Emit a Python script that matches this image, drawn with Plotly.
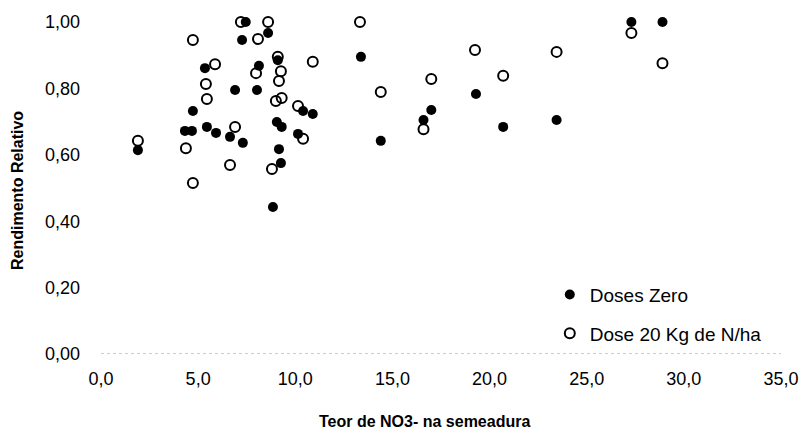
import plotly.graph_objects as go

# Doses Zero (filled)
zero_x = [7.45, 7.26, 8.6, 9.1, 8.13, 5.35, 6.9, 8.03, 4.73, 10.4, 10.9, 1.9, 4.32, 4.68,
          5.45, 5.92, 6.64, 7.3, 9.05, 9.3, 10.14, 9.16, 9.26, 8.85, 13.38, 14.4, 17.0,
          16.6, 19.3, 20.7, 23.45, 27.3, 28.9]
zero_y = [1.0, 0.946, 0.967, 0.885, 0.868, 0.861, 0.795, 0.795, 0.732, 0.732, 0.723, 0.614,
          0.672, 0.672, 0.684, 0.666, 0.654, 0.636, 0.699, 0.684, 0.663, 0.617, 0.575, 0.443,
          0.895, 0.642, 0.735, 0.705, 0.783, 0.684, 0.705, 1.0, 1.0]

# Dose 20 Kg de N/ha (open)
dose20_x = [7.2, 8.6, 4.73, 8.08, 9.1, 10.9, 9.26, 9.16, 7.98, 5.87, 5.4, 5.45, 9.0, 9.3,
            10.14, 1.9, 4.37, 6.9, 6.64, 4.73, 10.4, 8.8, 13.33, 14.4, 17.0, 16.6, 19.25,
            20.7, 23.45, 27.3, 28.9]
dose20_y = [1.0, 1.0, 0.946, 0.949, 0.895, 0.88, 0.852, 0.822, 0.846, 0.873, 0.813, 0.768,
            0.762, 0.771, 0.747, 0.642, 0.62, 0.684, 0.569, 0.515, 0.648, 0.557, 1.0, 0.789,
            0.828, 0.677, 0.916, 0.838, 0.91, 0.967, 0.876]

x_tickvals = [0, 5, 10, 15, 20, 25, 30, 35]
x_ticktext = ["0,0", "5,0", "10,0", "15,0", "20,0", "25,0", "30,0", "35,0"]
y_tickvals = [0, 0.2, 0.4, 0.6, 0.8, 1.0]
y_ticktext = ["0,00", "0,20", "0,40", "0,60", "0,80", "1,00"]

FONT = "Arial, Liberation Sans, sans-serif"

fig = go.Figure()
fig.add_trace(go.Scatter(
    x=zero_x, y=zero_y, mode="markers", name="Doses Zero", legendgroup="a",
    marker=dict(symbol="circle", size=10, color="black"),
    cliponaxis=False))
fig.add_trace(go.Scatter(
    x=dose20_x, y=dose20_y, mode="markers", name="Dose 20 Kg de N/ha", legendgroup="b",
    marker=dict(symbol="circle-open", size=10, color="black", line=dict(width=2, color="black")),
    cliponaxis=False))

# page body has an 8px margin: size and margins compensate for it
fig.update_layout(
    width=801, height=423,
    margin=dict(l=93, r=28, t=14, b=77),
    paper_bgcolor="white", plot_bgcolor="white",
    font=dict(family=FONT, color="black"),
    showlegend=True,
    legend=dict(x=0.66, y=0.236, xanchor="left", yanchor="top",
                bgcolor="rgba(0,0,0,0)", font=dict(size=19, family=FONT),
                tracegroupgap=11, traceorder="grouped"),
    xaxis=dict(range=[0, 35], tickvals=x_tickvals, ticktext=x_ticktext,
               showgrid=False, zeroline=False, showline=False, ticks="", automargin=False,
               tickfont=dict(size=18, family=FONT), ticklabelstandoff=12),
    yaxis=dict(range=[0, 1.0], tickvals=y_tickvals, ticktext=y_ticktext,
               showgrid=False, zeroline=False, showline=False, ticks="", automargin=False,
               tickfont=dict(size=18, family=FONT), ticklabelstandoff=20),
    shapes=[dict(type="line", xref="paper", yref="y", x0=0, x1=1, y0=0, y1=0,
                 line=dict(color="#999999", width=1, dash="dot"))],
    annotations=[
        dict(text="<b>Teor de NO3- na semeadura</b>", xref="paper", yref="paper",
             x=0.475, y=0, yshift=-67, xanchor="center", yanchor="middle",
             showarrow=False, font=dict(size=16, family=FONT)),
        dict(text="<b>Rendimento Relativo</b>", xref="paper", yref="paper",
             x=0, y=0.491, xshift=-83, xanchor="center", yanchor="middle",
             textangle=-90, showarrow=False, font=dict(size=16, family=FONT)),
    ],
)

fig.write_html("out.html")
